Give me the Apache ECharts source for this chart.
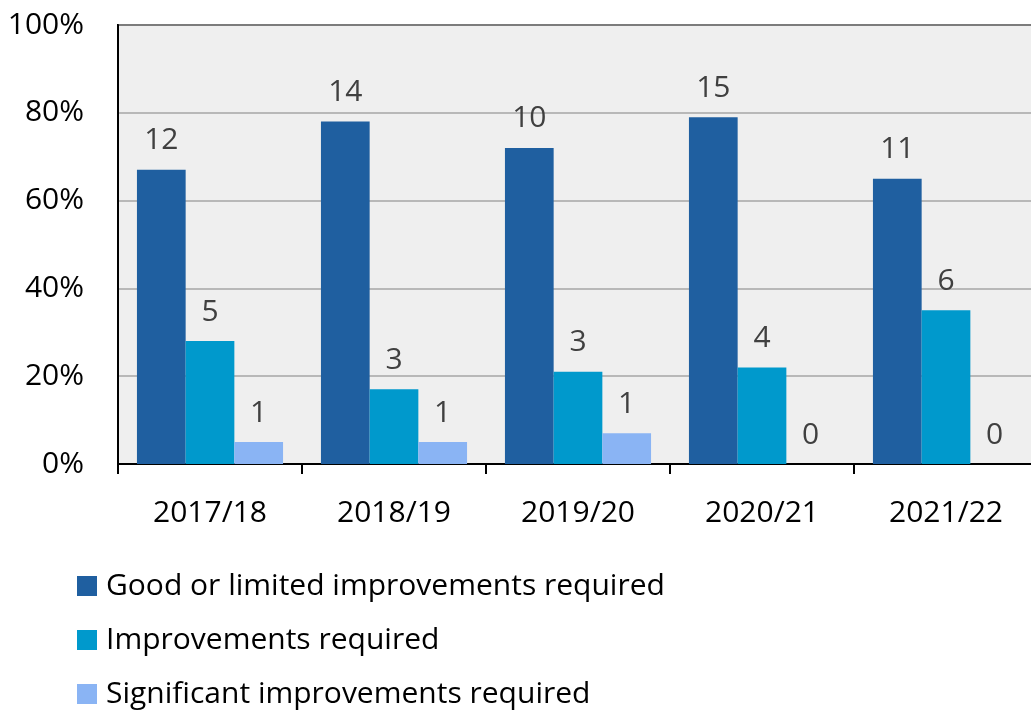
<!DOCTYPE html>
<html>
<head>
<meta charset="utf-8">
<script src="https://cdn.jsdelivr.net/npm/echarts@6/dist/echarts.min.js"></script>
<style>
  html, body { margin: 0; padding: 0; background: #fff; }
  #chart { width: 1031px; height: 713px; }
</style>
</head>
<body>
<div id="chart"></div>
<script>
const years = ['2017/18', '2018/19', '2019/20', '2020/21', '2021/22']
const seriesNames = ['Good or limited improvements required', 'Improvements required', 'Significant improvements required']
// share of reports (%), bar heights
const goodPct = [67, 78, 72, 79, 65]
const improvePct = [28, 17, 21, 22, 35]
const significantPct = [5, 5, 7, 0, 0]
// counts shown above the bars
const goodCount = [12, 14, 10, 15, 11]
const improveCount = [5, 3, 3, 4, 6]
const significantCount = [1, 1, 1, 0, 0]

const colors = ['#1f5fa0', '#0099cc', '#8ab4f4']
const font = '"Open Sans", "Noto Sans", sans-serif'

var myChart = echarts.init(document.getElementById('chart'))

const makeSeries = (name, pct, counts, i) => ({
  name: name,
  type: 'bar',
  barGap: 0,
  barCategoryGap: '20.6%',
  data: pct,
  itemStyle: { color: colors[i] },
  label: {
    show: true,
    position: 'top',
    distance: 14,
    color: '#404040',
    fontSize: 30,
    fontFamily: font,
    formatter: (p) => String(counts[p.dataIndex])
  }
})

myChart.setOption({
  animation: false,
  color: colors,
  grid: {
    left: 118,
    top: 25,
    width: 920,
    height: 439,
    outerBoundsMode: 'none',
    containLabel: false,
    show: true,
    backgroundColor: '#efefef',
    borderColor: '#000',
    borderWidth: 2
  },
  legend: {
    orient: 'vertical',
    left: 77,
    top: 571,
    height: 200,
    padding: 0,
    icon: 'rect',
    itemWidth: 20,
    itemHeight: 20,
    itemGap: 24,
    data: seriesNames,
    textStyle: {
      fontSize: 30,
      lineHeight: 30,
      fontFamily: font,
      color: '#000',
      padding: [0, 0, 0, 4]
    }
  },
  xAxis: {
    type: 'category',
    data: years,
    axisLine: { show: true, lineStyle: { color: '#000', width: 2 } },
    axisTick: { show: true, length: 10, lineStyle: { color: '#000', width: 2 } },
    axisLabel: { fontSize: 30, fontFamily: font, color: '#000', margin: 34 }
  },
  yAxis: {
    type: 'value',
    min: 0,
    max: 100,
    interval: 20,
    axisLine: { show: true, lineStyle: { color: '#000', width: 2 } },
    axisTick: { show: false },
    splitLine: { lineStyle: { color: '#a6a6a6', width: 1.5 } },
    axisLabel: { formatter: '{value}%', fontSize: 30, fontFamily: font, color: '#000', margin: 34 }
  },
  series: [
    makeSeries(seriesNames[0], goodPct, goodCount, 0),
    makeSeries(seriesNames[1], improvePct, improveCount, 1),
    makeSeries(seriesNames[2], significantPct, significantCount, 2)
  ]
})
</script>
</body>
</html>
